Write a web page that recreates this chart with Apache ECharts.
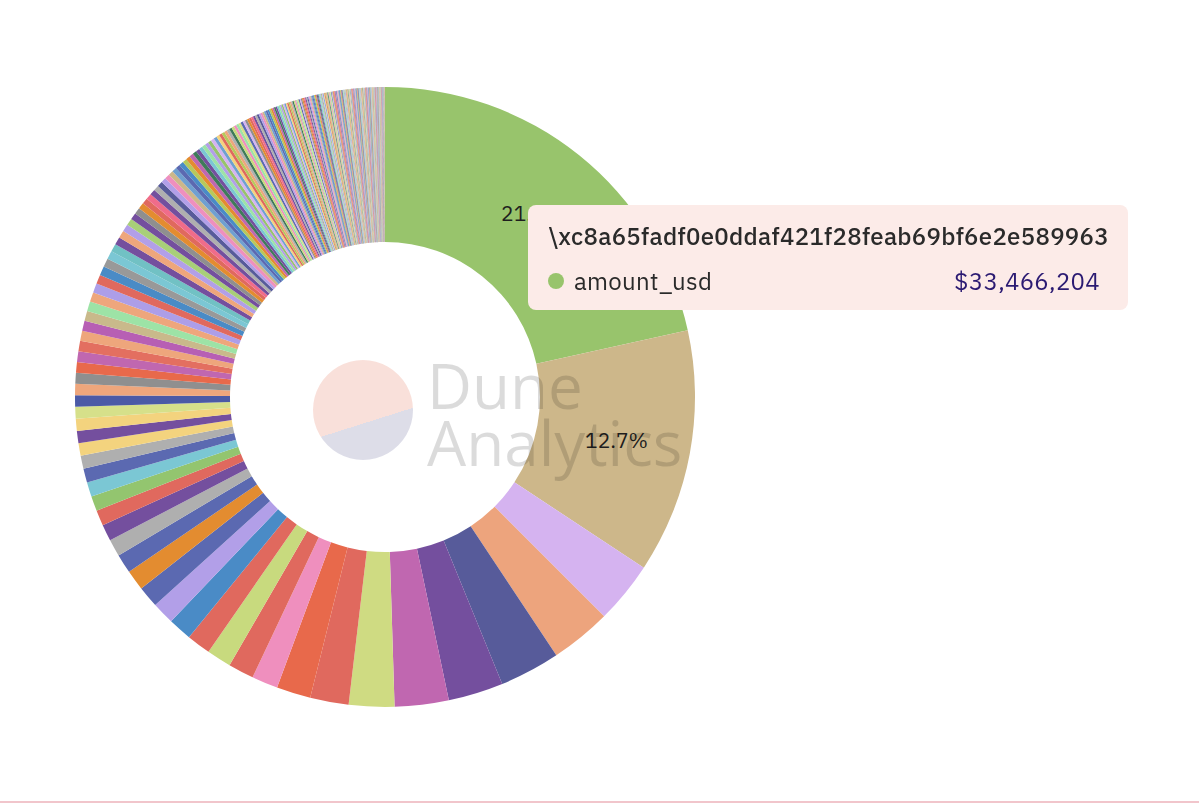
<!DOCTYPE html>
<html>
<head>
<meta charset="utf-8">
<script src="https://cdn.jsdelivr.net/npm/echarts@6/dist/echarts.min.js"></script>
<style>
html,body{margin:0;padding:0;background:#ffffff;}
#chart{width:1199px;height:811px;}
</style>
</head>
<body>
<div id="chart"></div>
<script>
// ---- data ----
const topAddress = '\\xc8a65fadf0e0ddaf421f28feab69bf6e2e589963';
const seriesName = 'amount_usd';

const largestAmounts = [
  33466204, 19768000, 5016000, 4929000, 4886000, 4454000, 4367000, 3675000, 3113000, 2767000,
  2119000, 2075000, 1989000, 1946000, 1902000, 1816000, 1730000, 1643000, 1557000,
  1384000, 1340000, 1254000, 1211000, 1167000, 1124000, 1059000, 1016000, 994000, 973000, 951000, 930000, 908000,
  886000, 865000, 862000, 843000, 822000, 819000, 800000, 778000, 775000, 757000, 735000, 733000,
  692000, 670000, 649000, 627000, 605000, 584000, 562000, 540000
];
const midAmounts = [
  519000, 497000, 476000, 474000, 454000, 432000, 430000, 411000, 409000, 389000,
  387000, 368000, 366000, 346000, 344000, 337000, 324000, 311000, 303000, 294000,
  285000, 277000, 268000, 259000, 251000, 242000, 238000, 233000, 225000, 216000,
  212000, 208000, 203000, 199000, 195000, 190000
];
const smallAmounts = [
  184000, 180000, 176000, 172000, 168000, 165000, 162000, 159000, 156000, 153000,
  150000, 147000, 144000, 141000, 138000, 135000, 132000, 130000, 128000, 126000,
  124000, 122000, 120000, 118000, 116000, 114000, 112000, 110000, 108000, 106000,
  104000, 102000, 100000, 98000, 96000, 94000, 92000, 90000, 88000, 86000,
  85000, 84000, 83000, 82000, 81000, 80000, 79000, 78000, 77000, 76000,
  75000, 74000, 73000, 72000, 71000, 70000, 69000, 68000, 67000, 66000,
  65000, 64000, 63000, 62000, 61000, 60000, 59000, 58000, 57000, 56000,
  55000, 54000, 53000, 52000, 51000, 50000, 49000, 48000, 47000, 46000,
  45000, 45000, 44000, 44000, 43000, 43000, 42000, 42000, 41000, 41000,
  40000, 40000, 39000, 39000, 38000, 38000
];
const tinyAmounts = [
  38000, 38000, 38000, 38000, 37000, 37000, 37000, 37000, 37000, 37000,
  37000, 37000, 36000, 36000, 36000, 35000, 35000, 35000, 34000, 34000,
  34000, 33000, 33000, 33000, 32000, 32000, 32000, 31000, 31000, 31000,
  30000, 30000, 30000, 30000, 29000, 29000, 29000, 29000, 28000, 28000,
  28000, 28000, 27000, 27000, 27000, 27000, 26000, 26000, 26000, 26000,
  25000, 25000, 25000, 25000, 24000, 24000, 24000, 24000, 23000, 23000,
  23000, 23000, 22000, 22000, 22000, 22000, 21000, 21000, 21000, 21000,
  20000, 20000, 20000, 20000, 20000, 19000, 19000, 19000, 19000, 19000,
  18000, 18000, 18000, 18000, 18000, 17000, 17000, 17000, 17000, 17000,
  16000, 16000, 16000, 16000, 16000, 16000, 15000, 15000, 15000, 15000,
  15000, 15000, 14000, 14000, 14000, 14000, 14000, 14000, 13000, 13000,
  13000, 13000, 13000, 13000, 12000, 12000, 12000, 12000, 12000, 12000,
  11000, 11000, 11000, 11000, 11000, 11000, 10000, 10000, 10000, 10000,
  10000, 10000, 9000, 9000, 9000, 9000, 9000, 8000, 8000, 8000,
  7000, 7000, 7000, 7000, 6000, 6000, 6000, 6000, 6000, 5000,
  5000, 5000, 5000, 5000, 5000, 4000, 4000, 4000, 4000, 4000
];

// ---- styling ----
const leadColors = [
  '#98c46c', '#cdb78a', '#d5b3f0', '#eda47d', '#575b9a', '#744f9e', '#c067b0', '#cfdb82', '#e0695e', '#e8694b',
  '#ef8fbe', '#e0695e', '#c8da7e', '#e0695e', '#4a8bc6', '#b29fe8', '#5b69b1', '#e38c30', '#5b69b1', '#afafaf',
  '#744f9e', '#e0695e', '#93c56f', '#7bc7d4', '#5b69b1', '#afafaf', '#f3d37e', '#744f9e', '#f3d37e', '#d6e08a',
  '#4b5aa6', '#eea67c', '#8f8f8f', '#e8694b', '#c067b0', '#e36f60', '#eea67c', '#b75fb4', '#c9b98b', '#9de3a6',
  '#eea67c', '#ad9ee8', '#e0695e', '#4a8bc6', '#999999', '#7bc7d4', '#71c1c4', '#744f9e', '#eea67c', '#b29fe8',
  '#a8cf78', '#744f9e'
];
const tailPalette = [
  '#b29fe8', '#c8da7e', '#744f9e', '#eea67c', '#e38c30', '#f3d37e', '#5b69b1', '#97c36c',
  '#ef8fbe', '#7bc7d4', '#afafaf', '#c067b0', '#e0695e', '#4a8bc6', '#d5b3f0', '#cdb78a',
  '#9de3a6', '#575b9a', '#3f7a5a', '#f06c8a', '#b6c95c', '#8f8f8f', '#6fa0d0', '#d6e08a'
];

const amounts = largestAmounts.concat(midAmounts, smallAmounts, tinyAmounts);
const pieData = amounts.map((v, i) => ({
  name: i === 0 ? topAddress : 'wallet #' + (i + 1),
  value: v,
  itemStyle: {
    color: i < leadColors.length ? leadColors[i]
      : tailPalette[(i * 7 + Math.floor(i / 3)) % tailPalette.length]
  }
}));

const uiFont = "'IBM Plex Sans','Noto Sans','Open Sans',sans-serif";

const chart = echarts.init(document.getElementById('chart'), null, { renderer: 'svg' });
chart.setOption({
  backgroundColor: '#ffffff',
  animation: false,
  tooltip: {
    trigger: 'item',
    triggerOn: 'none',
    alwaysShowContent: true,
    transitionDuration: 0,
    position: [528, 205],
    padding: 0,
    backgroundColor: '#fcebe8',
    borderWidth: 0,
    borderRadius: 8,
    extraCssText: 'box-shadow:none;',
    formatter: p => (
      '<div style="position:relative;width:600px;height:105px;font-family:' + uiFont.replace(/'/g, '&quot;') + ';">' +
        '<div style="position:absolute;left:20px;top:14px;font-size:24px;letter-spacing:0.3px;font-weight:500;line-height:34px;color:#2a2a2a;white-space:nowrap;">' + p.name + '</div>' +
        '<div style="position:absolute;left:20px;top:59px;width:552px;height:34px;display:flex;align-items:center;font-size:24px;letter-spacing:0.3px;line-height:34px;">' +
          '<span style="display:inline-block;width:16px;height:16px;border-radius:50%;background:' + p.color + ';margin-right:10px;"></span>' +
          '<span style="color:#2a2a2a;">' + p.seriesName + '</span>' +
          '<span style="margin-left:auto;color:#2b1a72;">$' + p.value.toLocaleString('en-US') + '</span>' +
        '</div>' +
      '</div>'
    )
  },
  graphic: [
    {
      type: 'circle', z: 100, silent: true,
      shape: { cx: 363, cy: 410, r: 50 },
      style: {
        fill: new echarts.graphic.LinearGradient(0.35, 0.025, 0.65, 0.975, [
          { offset: 0, color: '#f9e0da' },
          { offset: 0.63, color: '#f9e0da' },
          { offset: 0.63, color: '#dddde8' },
          { offset: 1, color: '#dddde8' }
        ])
      }
    },
    {
      type: 'text', z: 100, silent: true,
      style: {
        text: 'Dune\nAnalytics', x: 427, y: 413,
        font: "400 62px 'Open Sans','Noto Sans',sans-serif",
        lineHeight: 57,
        fill: 'rgba(0,0,0,0.14)', textAlign: 'left', textVerticalAlign: 'middle'
      }
    },
    {
      type: 'line', silent: true,
      shape: { x1: 0, y1: 802, x2: 1199, y2: 802 },
      style: { stroke: '#f1c5cb', lineWidth: 2 }
    }
  ],
  series: [{
    type: 'pie',
    name: seriesName,
    center: [385, 397],
    radius: [155, 310],
    startAngle: 90,
    clockwise: true,
    avoidLabelOverlap: false,
    animation: false,
    itemStyle: { borderWidth: 0 },
    emphasis: { disabled: true },
    label: {
      show: true,
      position: 'inside',
      formatter: p => (p.percent >= 10 ? p.percent.toFixed(1) + '%' : ''),
      color: '#1e1e1e',
      fontSize: 21,
      fontFamily: uiFont
    },
    labelLine: { show: false },
    data: pieData
  }]
});
chart.dispatchAction({ type: 'showTip', seriesIndex: 0, dataIndex: 0 });
</script>
</body>
</html>
